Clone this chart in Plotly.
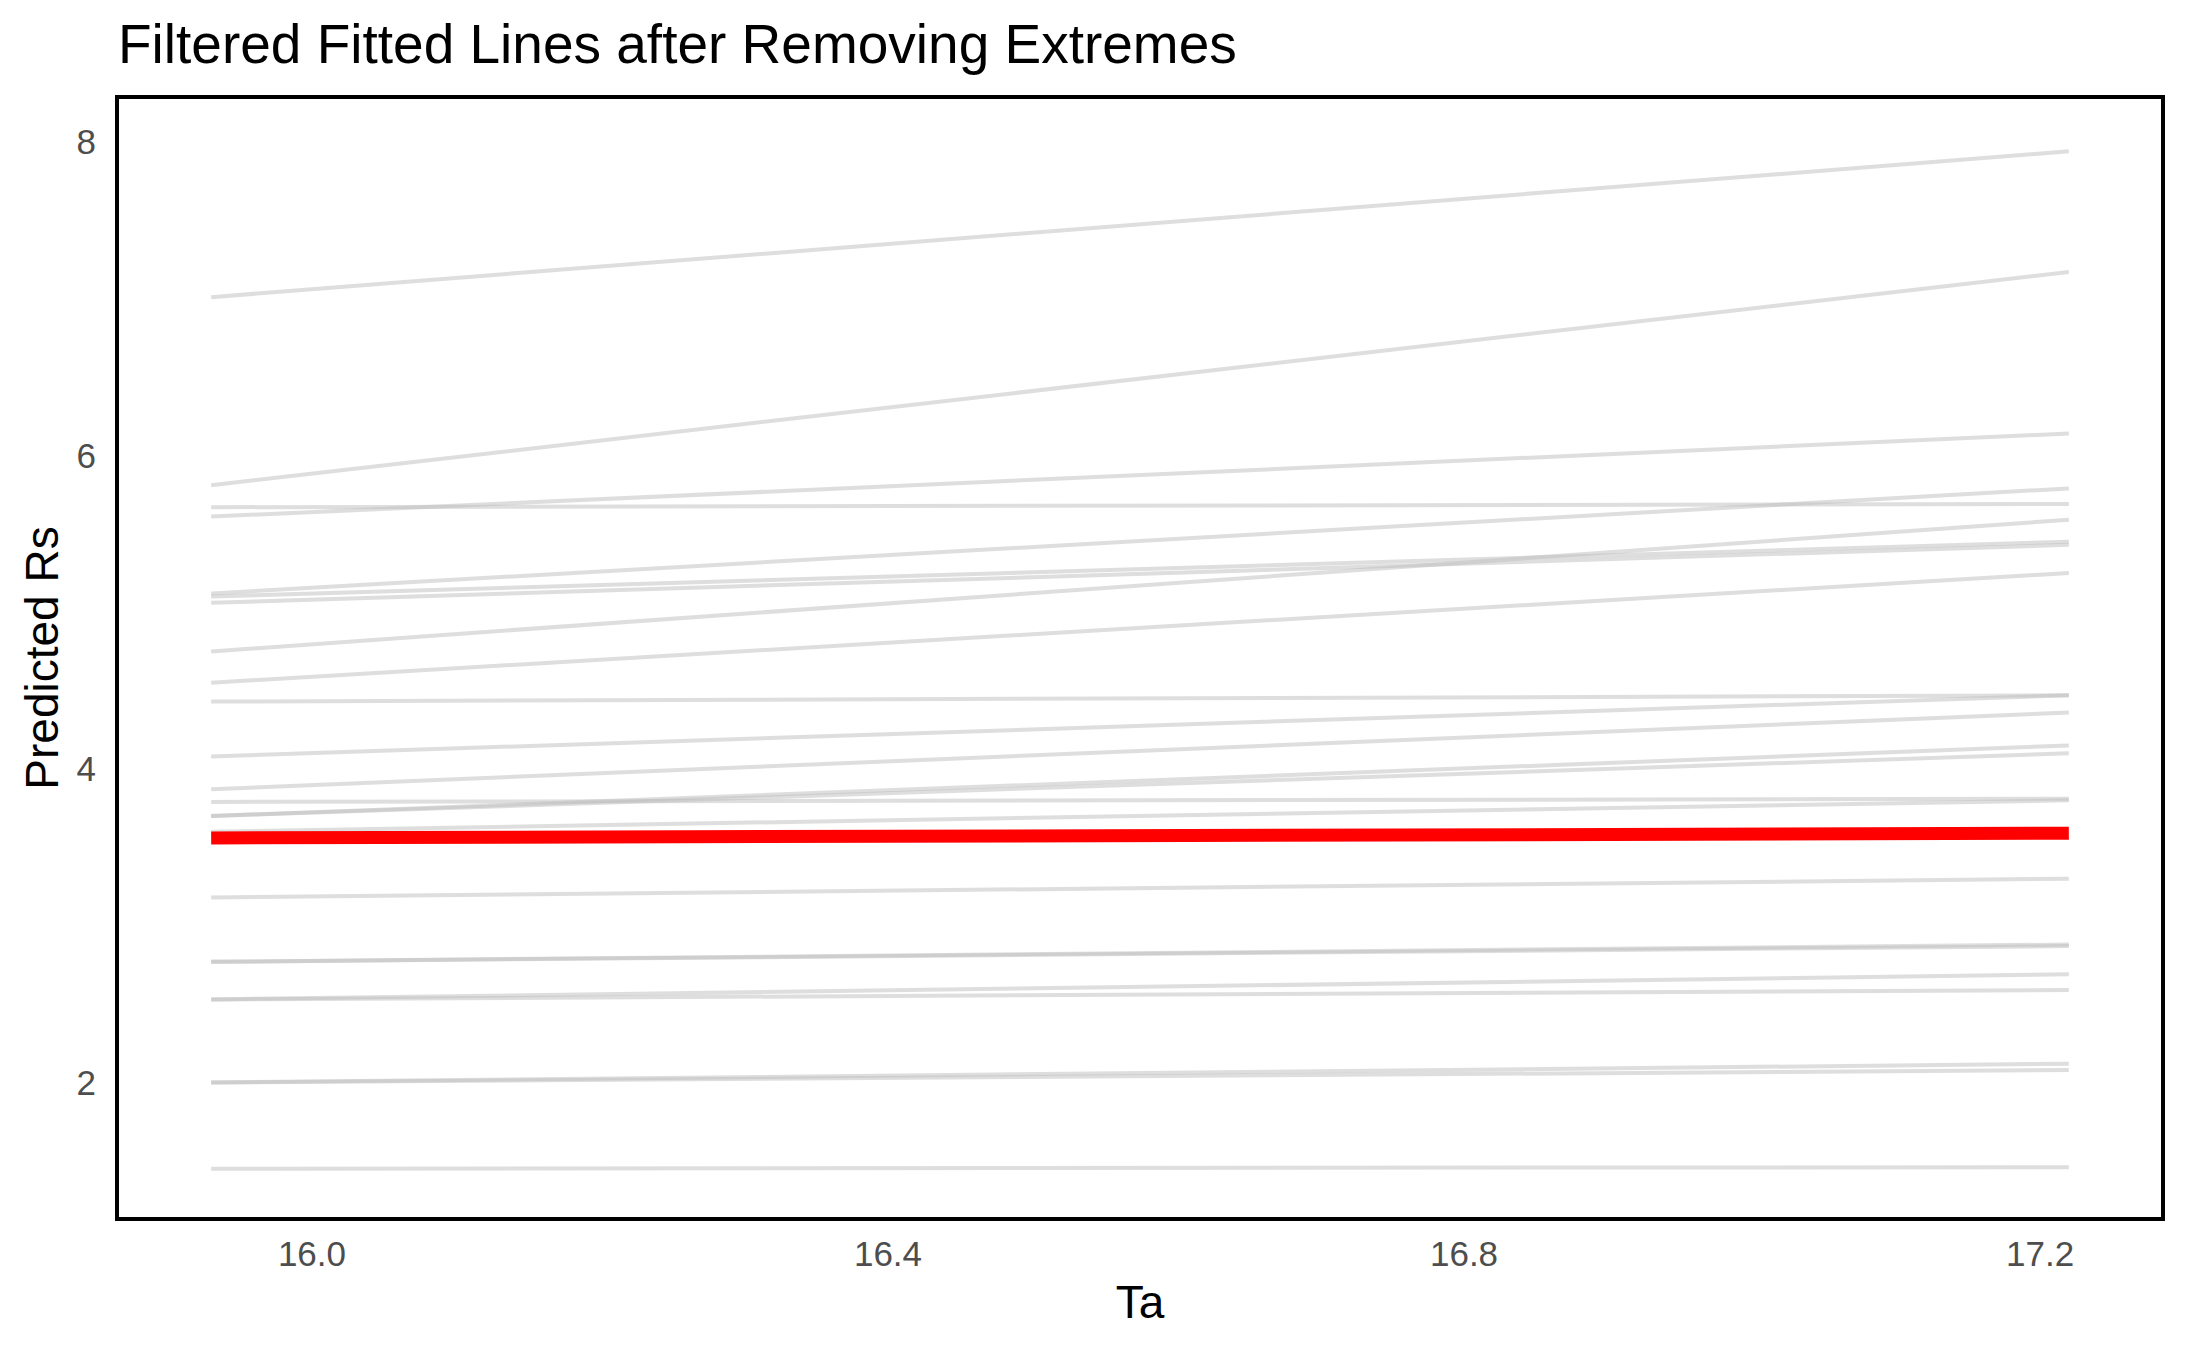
import plotly.graph_objects as go

# Data
ta_range = [15.93, 17.22]  # Ta endpoints of every fitted line
rs_left = [7.01, 5.81, 5.61, 5.67, 5.12, 5.10, 5.06, 4.75, 4.55, 4.43, 4.08, 3.87,
           3.70, 3.70, 3.79, 3.60, 3.18, 2.77, 2.77, 2.53, 2.53, 2.00, 2.00, 1.45]
rs_right = [7.94, 7.17, 6.14, 5.69, 5.79, 5.45, 5.43, 5.59, 5.25, 4.47, 4.47, 4.36,
            4.15, 4.10, 3.81, 3.80, 3.30, 2.88, 2.87, 2.69, 2.59, 2.12, 2.08, 1.46]
mean_line = [3.56, 3.59]

x_ticks = [16.0, 16.4, 16.8, 17.2]
x_tick_labels = ["16.0", "16.4", "16.8", "17.2"]
y_ticks = [2, 4, 6, 8]

fig = go.Figure()
for a, b in zip(rs_left, rs_right):
    fig.add_trace(go.Scatter(
        x=ta_range, y=[a, b], mode="lines",
        line=dict(color="rgba(190,190,190,0.5)", width=4),
        showlegend=False, hoverinfo="skip"))

fig.add_trace(go.Scatter(
    x=ta_range, y=mean_line, mode="lines",
    line=dict(color="#FF0000", width=13),
    showlegend=False, hoverinfo="skip"))

FONT = "Liberation Sans, Arial, sans-serif"

fig.update_layout(
    width=2187, height=1350,
    margin=dict(l=111, r=34, t=91, b=141),
    paper_bgcolor="white", plot_bgcolor="white",
    font=dict(family=FONT),
    title=dict(text="Filtered Fitted Lines after Removing Extremes",
               x=110 / 2187, xanchor="left", xref="container",
               y=1 - 36 / 1350, yanchor="middle", yref="container",
               font=dict(size=55, color="black", family=FONT)),
    xaxis=dict(range=[15.866, 17.284], tickvals=x_ticks, ticktext=x_tick_labels,
               showgrid=False, zeroline=False,
               showline=True, linecolor="black", linewidth=4, mirror=True,
               ticks="outside", ticklen=3, tickcolor="rgba(0,0,0,0)",
               tickfont=dict(size=35, color="#4D4D4D", family=FONT),
               title=dict(text="Ta", font=dict(size=46, color="black", family=FONT),
                          standoff=15)),
    yaxis=dict(range=[1.142, 8.274], tickvals=y_ticks,
               showgrid=False, zeroline=False,
               showline=True, linecolor="black", linewidth=4, mirror=True,
               ticks="outside", ticklen=12, tickcolor="rgba(0,0,0,0)",
               tickfont=dict(size=35, color="#4D4D4D", family=FONT),
               title=dict(text="Predicted Rs", font=dict(size=46, color="black", family=FONT),
                          standoff=4)),
)

fig.write_html("out.html")
